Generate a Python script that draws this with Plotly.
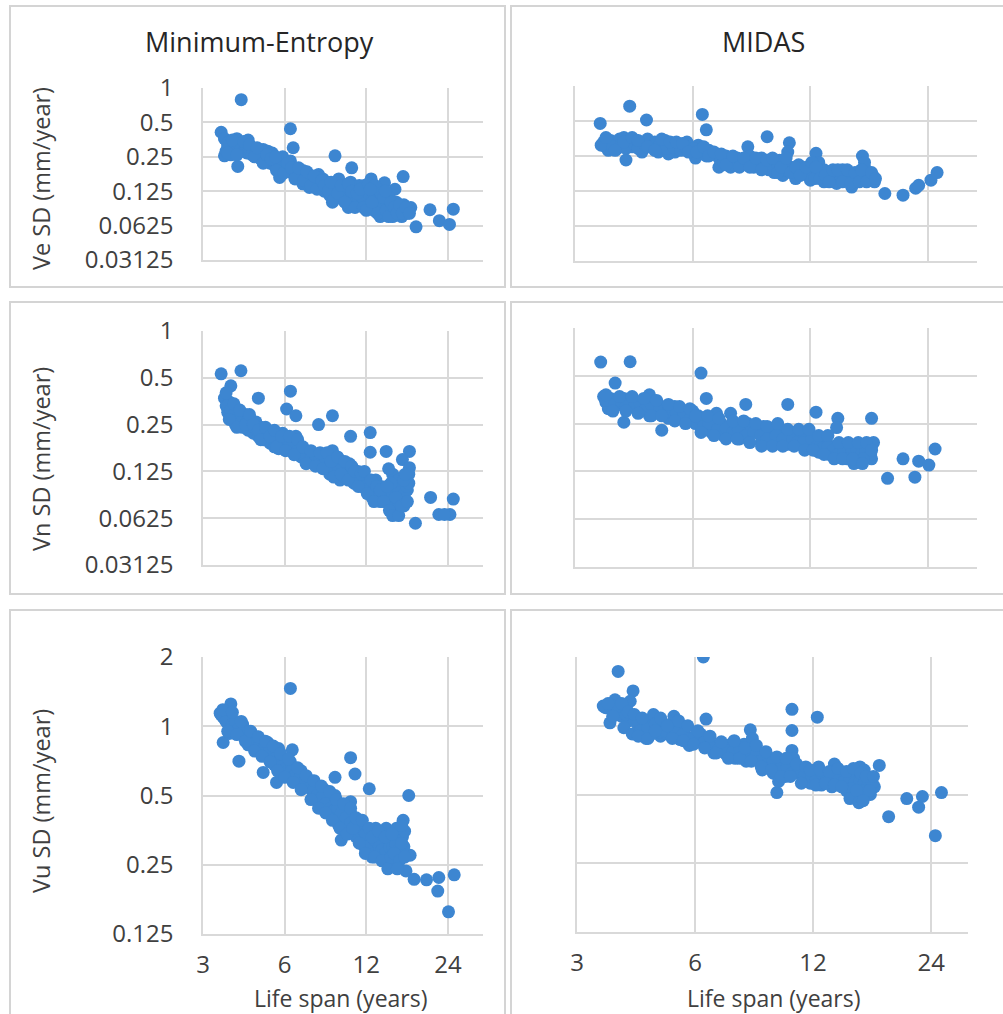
import math
import plotly.graph_objects as go

# ---------------- data ----------------
x_ticks = [3, 6, 12, 24]
x_tick_text = ["3", "6", "12", "24"]
y_ticks_h = [0.03125, 0.0625, 0.125, 0.25, 0.5, 1]
y_ticks_h_text = ["0.03125", "0.0625", "0.125", "0.25", "0.5", "1"]
y_ticks_u = [0.125, 0.25, 0.5, 1, 2]
y_ticks_u_text = ["0.125", "0.25", "0.5", "1", "2"]

col_titles = ["Minimum-Entropy", "MIDAS"]
row_titles = ["Ve SD (mm/year)", "Vn SD (mm/year)", "Vu SD (mm/year)"]
x_title = "Life span (years)"

# Minimum-Entropy, Ve
me_ve_x = [4.15, 3.5, 6.3, 6.45, 9.2, 10.6, 16.4, 14.0, 18.3, 20.6, 22.3, 24.3, 25.1, 4.03, 3.6,
           3.6, 3.7, 3.75, 3.85, 3.9, 3.95, 4.0, 3.8, 3.65, 4.05,
           4.2, 4.3, 4.4, 4.5, 4.35, 4.6, 4.15,
           4.8, 5.0, 5.2, 5.4, 4.9, 5.1, 5.3, 5.5, 5.0,
           5.6, 5.8, 6.0, 5.7, 6.2, 6.3, 5.9, 5.75,
           6.5, 6.8, 7.0, 7.2, 7.5, 7.8, 6.6, 7.0, 7.4,
           8.0, 8.3, 8.6, 9.0, 9.3, 8.4, 8.8, 9.5, 9.0, 9.6,
           10.0, 10.5, 11.0, 11.5, 10.2, 10.8, 11.5, 12.0, 11.8, 10.3,
           12.5, 13.0, 13.5, 14.0, 14.5, 15.0, 13.0, 14.0, 15.5, 15.0, 12.8, 15.3, 13.5,
           16.0, 16.5, 17.0, 17.5, 16.2,
           3.7, 3.9, 4.1, 4.25, 4.45, 4.55, 4.7, 4.85, 5.05, 5.25, 5.45, 5.65, 5.85, 6.1, 6.4,
           6.7, 6.9, 7.1, 7.3, 7.6, 7.9, 8.1, 8.5, 8.9, 9.2, 9.4, 9.8, 10.1, 10.4, 10.7,
           11.2, 11.3, 11.7, 12.2, 12.3, 12.7, 13.2, 13.8, 14.3, 14.8, 15.6, 16.5, 17.2, 13.3, 14.6]
me_ve_y = [0.79, 0.41, 0.44, 0.30, 0.255, 0.2, 0.168, 0.148, 0.061, 0.086, 0.069, 0.064, 0.087, 0.206, 0.255,
           0.36, 0.31, 0.34, 0.29, 0.33, 0.27, 0.36, 0.26, 0.28, 0.30,
           0.33, 0.31, 0.35, 0.30, 0.27, 0.28, 0.29,
           0.27, 0.29, 0.28, 0.27, 0.24, 0.23, 0.22, 0.21, 0.25,
           0.24, 0.22, 0.20, 0.19, 0.19, 0.23, 0.25, 0.165,
           0.20, 0.18, 0.19, 0.16, 0.17, 0.15, 0.17, 0.145, 0.135,
           0.175, 0.16, 0.15, 0.14, 0.13, 0.125, 0.115, 0.16, 0.10, 0.11,
           0.14, 0.15, 0.13, 0.12, 0.11, 0.10, 0.095, 0.10, 0.14, 0.09,
           0.16, 0.12, 0.11, 0.10, 0.09, 0.085, 0.09, 0.08, 0.10, 0.075, 0.085, 0.13, 0.075,
           0.09, 0.085, 0.08, 0.09, 0.075,
           0.33, 0.30, 0.32, 0.28, 0.29, 0.26, 0.27, 0.25, 0.27, 0.25, 0.23, 0.21, 0.20, 0.21, 0.18,
           0.19, 0.165, 0.175, 0.15, 0.155, 0.165, 0.14, 0.135, 0.13, 0.12, 0.145, 0.13, 0.12, 0.13, 0.115,
           0.11, 0.14, 0.105, 0.12, 0.095, 0.11, 0.10, 0.09, 0.10, 0.095, 0.085, 0.095, 0.085, 0.13, 0.11]
me_ve_fill_x = [3.7, 3.85, 4.0, 4.25, 4.45, 4.65, 4.75, 5.0, 5.15, 5.35, 5.55, 5.6, 5.95, 6.15, 6.35,
                6.55, 6.75, 7.05, 7.25, 7.5, 7.7, 7.9, 8.2, 8.4, 8.7, 8.9, 9.1, 9.4, 9.7, 10.0,
                10.3, 10.6, 10.9, 11.1, 11.4, 11.7, 12.0, 12.2, 12.6, 12.9, 13.2, 13.6, 13.9, 14.2,
                14.5, 14.8, 15.2, 15.6, 15.9, 16.3, 16.8, 17.3, 14.1, 12.4]
me_ve_fill_y = [0.27, 0.35, 0.26, 0.34, 0.32, 0.25, 0.30, 0.22, 0.26, 0.24, 0.25, 0.19, 0.18, 0.22, 0.20,
                0.16, 0.20, 0.155, 0.185, 0.14, 0.17, 0.13, 0.155, 0.14, 0.125, 0.15, 0.105, 0.12, 0.14, 0.10,
                0.145, 0.125, 0.09, 0.12, 0.13, 0.09, 0.085, 0.145, 0.10, 0.14, 0.08, 0.12, 0.11, 0.085,
                0.075, 0.10, 0.09, 0.08, 0.095, 0.08, 0.09, 0.08, 0.125, 0.13]

# MIDAS, Ve
midas_ve_x = [3.48, 4.14, 4.57, 6.35, 6.5, 9.3, 8.3, 10.6, 4.05, 18.6, 20.7, 22.3, 22.7, 24.4, 25.3, 16.3, 12.4,
              3.55, 3.6, 3.7, 3.8, 3.9, 3.65, 3.85,
              4.0, 4.1, 4.2, 4.3, 4.4, 4.5, 4.6, 4.45,
              4.8, 5.0, 5.1, 5.3, 5.4, 5.5, 4.9, 5.2,
              5.8, 5.9, 6.0, 6.2, 6.4, 6.6, 6.1,
              6.9, 7.1, 7.3, 7.6, 7.8, 8.0, 8.2, 8.4, 7.0, 7.5,
              8.7, 9.0, 9.2, 9.5, 9.8, 10.0, 10.3, 10.5, 9.7, 10.2,
              10.8, 11.2, 11.6, 12.0, 12.4, 12.8, 11.0, 12.0, 12.6, 13.0,
              13.5, 14.0, 14.5, 15.0, 15.5, 16.0, 16.5, 17.0, 17.5, 14.0, 15.3, 16.5,
              3.5, 3.75, 3.95, 4.05, 4.25, 4.35, 4.55, 4.7, 4.95, 5.15, 5.35, 5.6, 5.75, 6.05, 6.3,
              6.5, 6.75, 7.0, 7.2, 7.45, 7.7, 7.95, 8.3, 8.6, 8.85, 9.1, 9.4, 9.9, 10.4, 10.7,
              11.4, 11.8, 12.2, 13.2, 13.7, 14.3, 14.8, 15.3, 15.8, 16.3, 16.8, 17.3, 13.0, 12.3]
midas_ve_y = [0.477, 0.67, 0.51, 0.57, 0.42, 0.366, 0.30, 0.325, 0.231, 0.119, 0.115, 0.132, 0.14, 0.155, 0.18, 0.25, 0.264,
              0.33, 0.30, 0.34, 0.32, 0.35, 0.28, 0.29,
              0.36, 0.33, 0.30, 0.34, 0.32, 0.29, 0.35, 0.27,
              0.33, 0.30, 0.34, 0.31, 0.27, 0.30, 0.27, 0.26,
              0.33, 0.29, 0.27, 0.31, 0.26, 0.28, 0.24,
              0.26, 0.23, 0.25, 0.22, 0.24, 0.21, 0.23, 0.25, 0.20, 0.20,
              0.22, 0.24, 0.20, 0.22, 0.19, 0.23, 0.21, 0.27, 0.18, 0.17,
              0.19, 0.21, 0.18, 0.20, 0.17, 0.19, 0.16, 0.155, 0.22, 0.15,
              0.18, 0.16, 0.19, 0.17, 0.15, 0.17, 0.20, 0.16, 0.15, 0.145, 0.135, 0.22,
              0.31, 0.30, 0.31, 0.29, 0.32, 0.29, 0.31, 0.30, 0.32, 0.29, 0.30, 0.28, 0.30, 0.29, 0.28,
              0.25, 0.26, 0.24, 0.22, 0.23, 0.21, 0.23, 0.21, 0.20, 0.21, 0.22, 0.19, 0.21, 0.19, 0.20,
              0.19, 0.17, 0.185, 0.17, 0.165, 0.17, 0.16, 0.16, 0.16, 0.165, 0.175, 0.17, 0.19, 0.16]
midas_ve_fill_x = [3.6, 3.8, 4.0, 4.2, 4.35, 4.6, 4.8, 5.0, 5.25, 5.45, 5.65, 5.85, 6.15, 6.4, 6.6,
                   6.8, 7.1, 7.3, 7.6, 7.9, 8.1, 8.4, 8.7, 9.0, 9.3, 9.6, 9.9, 10.1, 10.4, 10.7,
                   11.0, 11.3, 11.7, 12.1, 12.4, 12.7, 13.1, 13.4, 13.7, 14.1, 14.5, 14.9, 15.2,
                   15.6, 16.0, 16.2, 16.7, 17.2, 17.6]
midas_ve_fill_y = [0.36, 0.28, 0.33, 0.36, 0.34, 0.30, 0.28, 0.35, 0.33, 0.33, 0.32, 0.27, 0.27, 0.30, 0.25,
                   0.27, 0.26, 0.21, 0.25, 0.20, 0.24, 0.20, 0.24, 0.19, 0.23, 0.24, 0.18, 0.20, 0.24, 0.18,
                   0.20, 0.17, 0.20, 0.22, 0.20, 0.16, 0.17, 0.15, 0.19, 0.19, 0.15, 0.19, 0.145,
                   0.18, 0.15, 0.19, 0.15, 0.18, 0.16]

# Minimum-Entropy, Vn
me_vn_x = [3.5, 4.14, 3.8, 4.8, 6.3, 6.1, 6.6, 8.0, 9.0, 10.5, 12.4, 12.4, 14.2, 17.3, 16.3, 17.3,
           18.2, 20.7, 22.2, 24.4, 25.1, 23.3,
           3.6, 3.65, 3.7, 3.75, 3.8, 3.85, 3.9, 4.0, 3.95,
           4.1, 4.3, 4.5, 4.7, 4.2, 4.4, 4.6, 4.9, 4.8, 5.0,
           5.2, 5.4, 5.6, 5.8, 6.0, 5.3, 5.5, 5.9, 6.2, 5.7,
           6.5, 6.8, 7.1, 7.4, 7.7, 8.0, 6.9, 7.3, 7.9, 8.3, 6.6,
           8.6, 9.0, 9.4, 9.8, 10.2, 10.6, 9.0, 9.5, 10.4, 8.8, 9.6, 10.8,
           11.2, 11.8, 12.2, 12.8, 13.2, 12.0, 12.6, 13.5, 11.5, 13.0,
           14.2, 14.8, 15.2, 15.6, 16.0, 16.4, 16.8, 17.2, 15.0, 14.5, 15.8, 16.5, 17.0,
           3.7, 3.8, 3.9, 4.05, 4.15, 4.35, 4.55, 4.75, 4.95, 5.1, 5.35, 5.55, 5.75, 6.1, 6.3,
           6.7, 7.0, 7.2, 7.5, 7.8, 8.1, 8.4, 8.8, 9.2, 9.3, 9.8, 10.0, 10.5, 11.0, 11.5,
           11.8, 12.4, 12.9, 13.4, 13.8, 14.5, 15.0, 15.5, 15.8, 16.2, 16.6, 16.9, 17.2, 14.8, 13.6]
me_vn_y = [0.53, 0.555, 0.444, 0.37, 0.41, 0.315, 0.285, 0.25, 0.285, 0.21, 0.222, 0.166, 0.168, 0.168, 0.149, 0.132,
           0.058, 0.085, 0.066, 0.066, 0.083, 0.066,
           0.37, 0.33, 0.30, 0.35, 0.28, 0.32, 0.27, 0.30, 0.25,
           0.28, 0.29, 0.27, 0.26, 0.24, 0.23, 0.22, 0.24, 0.21, 0.20,
           0.23, 0.22, 0.21, 0.20, 0.19, 0.19, 0.18, 0.22, 0.18, 0.175,
           0.19, 0.18, 0.17, 0.16, 0.15, 0.16, 0.155, 0.145, 0.14, 0.145, 0.21,
           0.15, 0.14, 0.13, 0.125, 0.13, 0.12, 0.17, 0.15, 0.14, 0.12, 0.11, 0.105,
           0.125, 0.115, 0.11, 0.10, 0.09, 0.095, 0.085, 0.08, 0.10, 0.11,
           0.085, 0.08, 0.075, 0.07, 0.09, 0.10, 0.11, 0.12, 0.12, 0.13, 0.08, 0.075, 0.095,
           0.33, 0.31, 0.29, 0.27, 0.26, 0.26, 0.245, 0.23, 0.22, 0.21, 0.205, 0.195, 0.19, 0.20, 0.19,
           0.17, 0.16, 0.155, 0.15, 0.155, 0.15, 0.14, 0.135, 0.13, 0.14, 0.135, 0.115, 0.125, 0.115, 0.11,
           0.10, 0.095, 0.09, 0.085, 0.09, 0.08, 0.09, 0.10, 0.11, 0.085, 0.09, 0.10, 0.105, 0.105, 0.10]
me_vn_fill_x = [3.65, 3.75, 3.9, 4.0, 4.1, 4.3, 4.45, 4.6, 4.8, 4.9, 5.1, 5.3, 5.5, 5.6, 5.85, 6.05,
                6.25, 6.5, 6.7, 7.0, 7.2, 7.5, 7.8, 8.1, 8.3, 8.6, 8.9, 9.1, 9.4, 9.7, 10.0, 10.3,
                10.6, 10.9, 11.2, 11.5, 11.8, 12.1, 12.5, 12.8, 13.1, 13.5, 13.9, 14.3, 14.6, 15.0,
                15.4, 15.8, 16.2, 16.5, 17.0, 16.7]
me_vn_fill_y = [0.40, 0.27, 0.34, 0.24, 0.31, 0.25, 0.29, 0.25, 0.23, 0.20, 0.24, 0.21, 0.23, 0.18, 0.21, 0.17,
                0.21, 0.16, 0.20, 0.18, 0.14, 0.17, 0.135, 0.165, 0.13, 0.165, 0.145, 0.115, 0.155, 0.12, 0.145, 0.11,
                0.135, 0.125, 0.10, 0.12, 0.125, 0.09, 0.11, 0.08, 0.10, 0.095, 0.08, 0.10, 0.07, 0.065,
                0.085, 0.065, 0.075, 0.11, 0.08, 0.12]

# MIDAS, Vn
midas_vn_x = [3.49, 4.15, 3.8, 6.3, 6.5, 4.65, 4.0, 8.2, 7.5, 6.9, 10.5, 12.4, 14.1, 14.0, 17.2, 17.4,
              18.9, 20.7, 22.2, 22.7, 24.1, 25.0, 5.0,
              3.55, 3.6, 3.7, 3.75, 3.85, 3.9, 4.0, 3.65, 4.1,
              4.2, 4.3, 4.45, 4.6, 4.75, 4.9, 4.4, 4.65, 4.85,
              5.1, 5.3, 5.4, 5.6, 5.8, 6.0, 6.2, 5.5, 5.9, 5.2, 6.1,
              6.5, 6.8, 7.1, 7.4, 7.7, 8.0, 8.3, 6.7, 7.2, 7.9, 8.5,
              8.8, 9.1, 9.4, 9.7, 10.0, 10.3, 10.6, 9.0, 9.6, 10.5, 11.0,
              11.3, 11.7, 12.0, 12.3, 12.7, 13.1, 13.5, 11.8, 12.6, 13.4, 13.8,
              14.3, 14.8, 15.2, 15.6, 16.0, 16.4, 16.8, 17.2, 15.0, 16.0, 15.5, 17.0,
              3.6, 3.8, 3.95, 4.05, 4.25, 4.4, 4.55, 4.7, 4.95, 5.2, 5.45, 5.7, 5.95, 6.25, 6.4,
              6.6, 6.95, 7.3, 7.6, 7.85, 8.2, 8.6, 8.95, 9.3, 9.8, 10.2, 10.8, 11.1, 11.5, 12.1,
              12.5, 12.9, 13.3, 13.7, 14.1, 14.6, 15.3, 15.8, 16.2, 16.6, 17.1, 14.9, 16.4]
midas_vn_y = [0.61, 0.613, 0.45, 0.52, 0.36, 0.38, 0.255, 0.33, 0.29, 0.29, 0.33, 0.295, 0.27, 0.236, 0.27, 0.19,
              0.113, 0.15, 0.115, 0.145, 0.137, 0.173, 0.227,
              0.37, 0.34, 0.36, 0.32, 0.35, 0.33, 0.36, 0.31, 0.34,
              0.35, 0.33, 0.34, 0.32, 0.31, 0.33, 0.30, 0.28, 0.29,
              0.31, 0.29, 0.32, 0.30, 0.28, 0.30, 0.28, 0.27, 0.26, 0.27, 0.25,
              0.26, 0.24, 0.25, 0.23, 0.24, 0.22, 0.25, 0.22, 0.21, 0.20, 0.23,
              0.22, 0.24, 0.21, 0.23, 0.20, 0.22, 0.21, 0.19, 0.19, 0.185, 0.22,
              0.20, 0.21, 0.19, 0.20, 0.18, 0.19, 0.17, 0.175, 0.165, 0.16, 0.18,
              0.17, 0.18, 0.17, 0.16, 0.17, 0.18, 0.16, 0.15, 0.155, 0.145, 0.14, 0.17,
              0.35, 0.33, 0.34, 0.32, 0.32, 0.34, 0.31, 0.33, 0.31, 0.30, 0.29, 0.29, 0.28, 0.27, 0.24,
              0.25, 0.23, 0.235, 0.22, 0.23, 0.21, 0.22, 0.21, 0.20, 0.21, 0.20, 0.20, 0.19, 0.19, 0.20,
              0.18, 0.175, 0.18, 0.17, 0.16, 0.165, 0.165, 0.17, 0.16, 0.17, 0.16, 0.15, 0.15]
midas_vn_fill_x = [3.6, 3.75, 3.9, 4.05, 4.2, 4.35, 4.5, 4.7, 4.85, 5.0, 5.2, 5.4, 5.55, 5.75, 5.9, 6.1,
                   6.3, 6.55, 6.8, 7.0, 7.3, 7.6, 7.8, 8.1, 8.4, 8.7, 9.0, 9.3, 9.6, 9.9, 10.2, 10.5,
                   10.9, 11.2, 11.6, 11.9, 12.2, 12.6, 13.0, 13.3, 13.8, 14.2, 14.5, 15.0, 15.4, 15.9,
                   16.3, 16.7, 17.2]
midas_vn_fill_y = [0.38, 0.30, 0.37, 0.30, 0.37, 0.29, 0.36, 0.28, 0.35, 0.28, 0.33, 0.26, 0.32, 0.25, 0.31, 0.28,
                   0.22, 0.28, 0.21, 0.27, 0.20, 0.26, 0.20, 0.26, 0.19, 0.25, 0.18, 0.24, 0.18, 0.25, 0.18, 0.23,
                   0.18, 0.23, 0.17, 0.23, 0.17, 0.21, 0.16, 0.21, 0.15, 0.19, 0.15, 0.19, 0.15, 0.19,
                   0.14, 0.19, 0.17]

# Minimum-Entropy, Vu
me_vu_x = [6.3, 3.8, 3.47, 3.56, 4.07, 5.0, 5.6, 6.4, 10.5, 12.3, 17.2, 9.7, 16.8, 18.0, 20.0, 22.2, 22.0,
           25.3, 24.1, 9.2, 10.9, 17.4,
           3.5, 3.6, 3.7, 3.8, 3.9, 4.0, 4.1, 3.75, 4.2,
           4.3, 4.45, 4.6, 4.75, 4.9, 5.1, 4.4, 4.7, 5.0, 5.2,
           5.4, 5.6, 5.8, 6.0, 6.2, 6.4, 5.5, 5.9, 6.3, 5.7,
           6.7, 7.0, 7.3, 7.6, 8.0, 8.3, 6.9, 7.5, 8.1, 7.8, 8.4,
           8.7, 9.0, 9.3, 9.6, 10.0, 10.4, 9.2, 9.8, 10.5, 10.5, 10.6, 9.5, 10.8,
           11.2, 11.6, 12.0, 12.4, 12.8, 13.2, 11.8, 12.6, 13.5, 13.0, 14.0,
           14.3, 14.8, 15.2, 15.6, 16.0, 16.3, 14.5, 15.0, 15.5, 16.0, 16.5, 14.2, 16.4,
           3.55, 3.65, 3.85, 3.95, 4.05, 4.25, 4.35, 4.55, 4.65, 4.85, 5.0, 5.15, 5.3, 5.5, 5.7, 5.85,
           6.1, 6.35, 6.6, 6.85, 7.1, 7.4, 7.7, 7.9, 8.2, 8.5, 8.85, 9.1, 9.4, 9.7, 10.1, 10.5,
           10.9, 11.0, 11.4, 11.9, 12.2, 12.9, 13.4, 13.7, 14.1, 14.6, 15.0, 15.4, 15.8, 16.2, 16.6, 13.8]
me_vu_y = [1.46, 1.25, 1.14, 0.85, 0.705, 0.63, 0.57, 0.79, 0.73, 0.535, 0.5, 0.32, 0.235, 0.216, 0.215, 0.22, 0.192,
           0.226, 0.156, 0.60, 0.62, 0.275,
           1.12, 1.08, 1.03, 1.10, 0.98, 1.00, 0.95, 0.93, 1.02,
           0.92, 0.90, 0.88, 0.84, 0.82, 0.80, 0.83, 0.90, 0.76, 0.85,
           0.76, 0.74, 0.70, 0.68, 0.65, 0.62, 0.68, 0.64, 0.70, 0.80,
           0.60, 0.58, 0.55, 0.52, 0.50, 0.48, 0.64, 0.58, 0.45, 0.48, 0.53,
           0.47, 0.45, 0.42, 0.40, 0.38, 0.36, 0.50, 0.44, 0.47, 0.42, 0.40, 0.37, 0.34,
           0.36, 0.34, 0.33, 0.31, 0.30, 0.28, 0.30, 0.27, 0.33, 0.36, 0.30,
           0.28, 0.30, 0.32, 0.34, 0.36, 0.33, 0.26, 0.25, 0.27, 0.29, 0.30, 0.36, 0.39,
           1.10, 1.05, 1.02, 1.04, 0.97, 0.95, 0.88, 0.86, 0.84, 0.86, 0.80, 0.78, 0.79, 0.72, 0.70, 0.67,
           0.66, 0.64, 0.62, 0.60, 0.57, 0.54, 0.53, 0.50, 0.49, 0.46, 0.44, 0.43, 0.44, 0.42, 0.40, 0.38,
           0.37, 0.33, 0.35, 0.34, 0.30, 0.32, 0.30, 0.29, 0.28, 0.30, 0.30, 0.31, 0.29, 0.31, 0.35, 0.34]
me_vu_fill_x = [3.55, 3.7, 3.85, 4.0, 4.15, 4.3, 4.5, 4.65, 4.8, 4.95, 5.1, 5.3, 5.45, 5.65, 5.8, 6.0,
                6.2, 6.45, 6.7, 6.9, 7.2, 7.5, 7.7, 8.0, 8.2, 8.5, 8.8, 9.0, 9.3, 9.6, 9.9, 10.2,
                10.5, 10.7, 11.0, 11.3, 11.6, 11.9, 12.3, 12.6, 12.9, 13.3, 13.7, 14.1, 14.4, 14.8,
                15.2, 15.5, 15.9, 16.2, 16.6, 14.9, 15.6]
me_vu_fill_y = [1.18, 0.95, 1.15, 0.92, 1.05, 0.86, 0.95, 0.78, 0.90, 0.74, 0.86, 0.70, 0.82, 0.64, 0.76, 0.60,
                0.72, 0.57, 0.66, 0.53, 0.61, 0.48, 0.58, 0.44, 0.55, 0.42, 0.52, 0.39, 0.48, 0.36, 0.46, 0.34,
                0.44, 0.36, 0.40, 0.31, 0.39, 0.28, 0.36, 0.33, 0.27, 0.35, 0.26, 0.33, 0.24, 0.27,
                0.28, 0.36, 0.26, 0.37, 0.27, 0.34, 0.24]

# MIDAS, Vu
midas_vu_x = [6.3, 3.82, 3.64, 4.17, 6.4, 10.6, 12.3, 10.6, 17.7, 18.7, 20.8, 22.3, 22.8, 25.5, 24.6, 9.7, 8.3,
              3.5, 3.6, 3.75, 3.85, 4.0, 3.9, 4.05, 3.95, 4.15, 4.1,
              4.3, 4.45, 4.6, 4.7, 4.8, 4.9, 4.5, 5.0, 5.1, 4.65,
              5.3, 5.4, 5.55, 5.7, 5.9, 6.1, 5.5, 5.8, 6.2, 5.3,
              6.5, 6.8, 7.1, 7.4, 7.7, 8.0, 8.3, 6.7, 7.2, 7.6, 8.1, 8.4,
              8.7, 9.0, 9.3, 9.6, 10.0, 10.4, 10.8, 8.9, 9.5, 10.2, 10.6, 10.7, 9.8,
              11.2, 11.6, 12.0, 12.4, 12.8, 13.2, 13.6, 11.8, 12.6, 13.4, 14.0, 13.6,
              14.3, 14.8, 15.2, 15.6, 16.0, 16.4, 16.8, 17.2, 15.0, 15.5, 16.2, 16.8, 14.6, 15.8, 16.2,
              3.55, 3.7, 3.8, 4.0, 4.2, 4.35, 4.55, 4.75, 4.85, 5.05, 5.2, 5.35, 5.6, 5.8, 6.0, 6.3,
              6.6, 6.9, 7.2, 7.5, 7.8, 8.2, 8.6, 8.8, 9.2, 9.5, 9.9, 10.3, 10.6, 11.0, 11.4,
              11.9, 12.2, 12.6, 13.0, 13.4, 13.9, 14.4, 14.9, 15.3, 15.8, 16.2, 16.6, 17.0, 15.0, 16.0]
midas_vu_y = [2.0, 1.73, 1.03, 1.42, 1.07, 1.18, 1.09, 0.953, 0.67, 0.40, 0.48, 0.44, 0.49, 0.51, 0.33, 0.51, 0.96,
              1.22, 1.20, 1.30, 1.15, 1.20, 1.10, 1.05, 0.98, 0.92, 1.28,
              1.00, 0.95, 1.05, 1.12, 0.98, 0.90, 0.88, 1.02, 0.92, 0.92,
              1.10, 1.00, 0.95, 0.90, 0.88, 0.85, 0.87, 0.82, 0.92, 1.05,
              0.86, 0.82, 0.80, 0.83, 0.78, 0.83, 0.76, 0.76, 0.75, 0.72, 0.70, 0.88,
              0.74, 0.70, 0.72, 0.66, 0.68, 0.70, 0.65, 0.64, 0.62, 0.60, 0.78, 0.72, 0.57,
              0.64, 0.60, 0.62, 0.66, 0.60, 0.58, 0.62, 0.56, 0.55, 0.54, 0.57, 0.68,
              0.60, 0.55, 0.60, 0.63, 0.58, 0.55, 0.58, 0.54, 0.50, 0.48, 0.50, 0.50, 0.52, 0.66, 0.64,
              1.20, 1.22, 1.18, 1.12, 1.05, 0.95, 0.98, 1.02, 0.94, 0.95, 1.00, 0.93, 0.92, 0.88, 0.90, 0.84,
              0.82, 0.79, 0.78, 0.77, 0.80, 0.74, 0.75, 0.70, 0.68, 0.70, 0.65, 0.66, 0.62, 0.62, 0.60,
              0.60, 0.58, 0.62, 0.60, 0.58, 0.60, 0.57, 0.58, 0.56, 0.57, 0.56, 0.55, 0.56, 0.53, 0.52]
midas_vu_fill_x = [3.6, 3.7, 3.9, 4.05, 4.2, 4.3, 4.4, 4.55, 4.75, 4.9, 5.1, 5.25, 5.45, 5.6, 5.75, 5.95,
                   6.1, 6.35, 6.55, 6.8, 7.0, 7.3, 7.55, 7.8, 8.05, 8.35, 8.6, 8.85, 9.1, 9.4, 9.7, 9.95,
                   10.25, 10.5, 10.9, 11.2, 11.5, 11.8, 12.2, 12.5, 12.9, 13.2, 13.6, 13.9, 14.2, 14.6,
                   14.9, 15.2, 15.5, 15.9, 16.4, 16.7, 17.1, 15.7, 16.1]
midas_vu_fill_y = [1.25, 1.10, 1.25, 1.15, 1.12, 0.90, 1.08, 0.88, 0.95, 1.08, 1.00, 0.88, 1.05, 0.86, 1.00, 0.83,
                   0.95, 0.80, 0.90, 0.76, 0.85, 0.72, 0.86, 0.72, 0.80, 0.70, 0.82, 0.66, 0.77, 0.64, 0.73, 0.60,
                   0.72, 0.60, 0.68, 0.56, 0.66, 0.64, 0.55, 0.64, 0.56, 0.63, 0.55, 0.65, 0.54, 0.63,
                   0.48, 0.65, 0.52, 0.62, 0.60, 0.52, 0.60, 0.46, 0.47]

# ---------------- layout helpers ----------------
W, H = 1003, 1014
FONT = "Open Sans"
MARKER = "#3d86d1"
GRID = "#d9d9d9"
TXT = "#404040"


def px_x(v):
    return v / W


def px_y(v):
    return 1 - v / H


# (x data, y data, fill x, fill y, plot-area px left/right, px top/bottom, y ticks, y tick text, y range, x max, left col, bottom row)
panels = [
    (me_ve_x, me_ve_y, me_ve_fill_x, me_ve_fill_y, (203, 483), (88, 260), y_ticks_h, y_ticks_h_text, (0.03125, 1), 32.3, True, False),
    (midas_ve_x, midas_ve_y, midas_ve_fill_x, midas_ve_fill_y, (575, 977), (86, 261), y_ticks_h, y_ticks_h_text, (0.03125, 1), 32.0, False, False),
    (me_vn_x, me_vn_y, me_vn_fill_x, me_vn_fill_y, (203, 483), (331, 565), y_ticks_h, y_ticks_h_text, (0.03125, 1), 32.3, True, False),
    (midas_vn_x, midas_vn_y, midas_vn_fill_x, midas_vn_fill_y, (575, 977), (328, 567), y_ticks_h, y_ticks_h_text, (0.03125, 1), 32.0, False, False),
    (me_vu_x, me_vu_y, me_vu_fill_x, me_vu_fill_y, (203, 483), (657, 934), y_ticks_u, y_ticks_u_text, (0.125, 2), 32.3, True, True),
    (midas_vu_x, midas_vu_y, midas_vu_fill_x, midas_vu_fill_y, (577, 968), (657, 932), y_ticks_u, y_ticks_u_text, (0.125, 2), 29.8, False, True),
]

fig = go.Figure()
layout = dict(
    width=W, height=H, autosize=False,
    margin=dict(l=0, r=0, t=0, b=0, pad=0),
    paper_bgcolor="white", plot_bgcolor="white",
    showlegend=False,
    font=dict(family=FONT, color=TXT),
)

for i, (xs, ys, fx, fy, (xl, xr), (yt, yb), ytv, ytt, yr, xmax, left, bottom) in enumerate(panels):
    n = "" if i == 0 else str(i + 1)
    fig.add_trace(go.Scatter(
        x=list(xs) + list(fx), y=list(ys) + list(fy), mode="markers",
        marker=dict(size=13, color=MARKER, line=dict(width=0)),
        xaxis="x" + n, yaxis="y" + n, hoverinfo="skip",
    ))
    layout["xaxis" + n] = dict(
        type="log", domain=[px_x(xl), px_x(xr)],
        range=[math.log10(3), math.log10(xmax)],
        tickvals=x_ticks, ticktext=x_tick_text,
        showticklabels=bottom, ticks="", ticklabelstandoff=8,
        tickfont=dict(size=24, color=TXT, family=FONT),
        showgrid=True, gridcolor=GRID, gridwidth=1.5,
        showline=True, linecolor=GRID, linewidth=1.5,
        zeroline=False, anchor="y" + n, fixedrange=True, automargin=False,
    )
    layout["yaxis" + n] = dict(
        type="log", domain=[px_y(yb), px_y(yt)],
        range=[math.log10(yr[0]), math.log10(yr[1])],
        tickvals=ytv, ticktext=ytt,
        showticklabels=left, ticks="", ticklabelstandoff=23,
        tickfont=dict(size=24, color=TXT, family=FONT),
        showgrid=True, gridcolor=GRID, gridwidth=1.5,
        showline=True, linecolor=GRID, linewidth=1.5,
        zeroline=False, anchor="x" + n, fixedrange=True, automargin=False,
    )

fig.update_layout(**layout)

# panel borders
BORDER = "#d4d4d4"
boxes = [
    (10, 505, 6, 287), (511, 1010, 6, 287),
    (10, 505, 302, 594), (511, 1010, 302, 594),
    (10, 505, 610, 1030), (511, 1010, 610, 1030),
]
for (x0, x1, y0, y1) in boxes:
    fig.add_shape(type="rect", xref="paper", yref="paper",
                  x0=px_x(x0), x1=px_x(x1), y0=px_y(y1), y1=px_y(y0),
                  line=dict(color=BORDER, width=2), fillcolor="rgba(0,0,0,0)", layer="below")

# column titles
for txt, cx in zip(col_titles, [259, 763]):
    fig.add_annotation(text=txt, x=px_x(cx), y=px_y(42), xref="paper", yref="paper",
                       showarrow=False, xanchor="center", yanchor="middle",
                       font=dict(size=27, color="#262626", family=FONT))

# row (y axis) titles
for txt, cy in zip(row_titles, [179, 459, 801]):
    fig.add_annotation(text=txt, x=px_x(41), y=px_y(cy), xref="paper", yref="paper",
                       showarrow=False, textangle=-90, xanchor="center", yanchor="middle",
                       font=dict(size=23.5, color=TXT, family=FONT))

# x axis titles
for cx in [340, 773]:
    fig.add_annotation(text=x_title, x=px_x(cx), y=px_y(998), xref="paper", yref="paper",
                       showarrow=False, xanchor="center", yanchor="middle",
                       font=dict(size=23, color=TXT, family=FONT))

fig.write_html("out.html")
